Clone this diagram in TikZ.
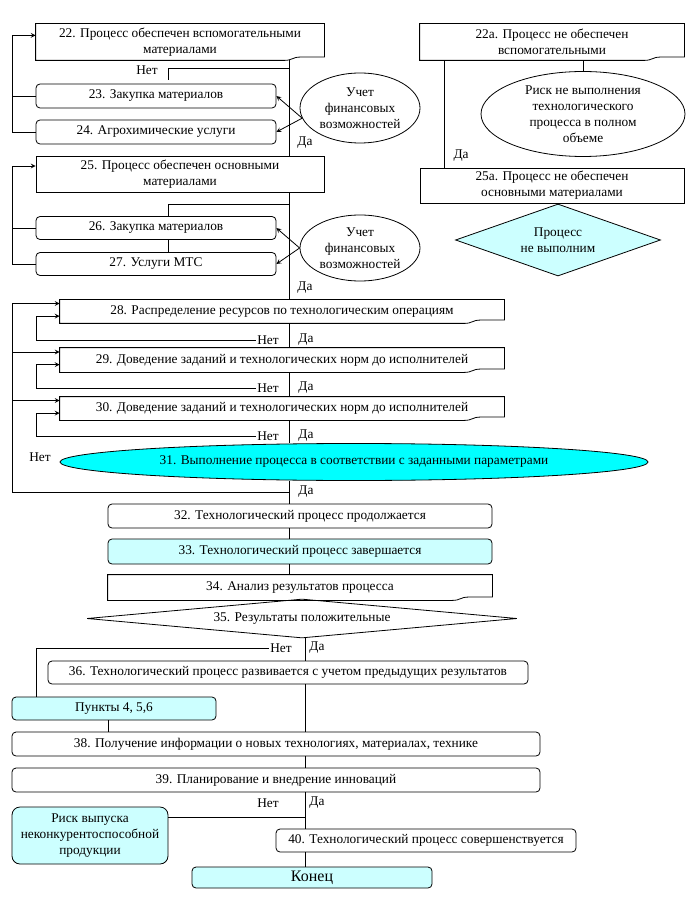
\documentclass[tikz,border=0pt]{standalone}
\usepackage{fontspec}
\setmainfont{Liberation Serif}
\usetikzlibrary{shapes.geometric}
\definecolor{paleblue}{HTML}{CCFFFF}
\definecolor{aqua}{HTML}{00FFFF}
\newcommand{\pxu}{0.75pt}

\begin{document}
\begin{tikzpicture}[x=0.75pt, y=-0.75pt, line width=0.6pt, font=\fontsize{10}{12}\selectfont,
	box/.style={draw, fill=white, inner sep=0pt, align=center},
	rbox/.style={box, rounded corners=3pt},
	doc/.style={inner sep=0pt, align=center},
	oval/.style={draw, ellipse, inner sep=0pt, align=center},
	rhomb/.style={draw, diamond, inner sep=0pt, align=center},
	tag/.style={inner sep=1pt}]
				\useasboundingbox (0,0) rectangle (687,912);
				\coordinate (ax) at (289,0);
				\coordinate (bx) at (305,0);
				\coordinate (ox) at (12,0);
				\coordinate (ix) at (36,0);
				\coordinate (kx) at (108,0);
				\coordinate (rx) at (444,0);
				\node[doc, minimum width=288*\pxu, minimum height=36*\pxu] (P22) at (180,42) {22. Процесс обеспечен вспомогательными\\материалами};
				\node[rbox, minimum width=240*\pxu, minimum height=24*\pxu] (P23) at (156,96) {23. Закупка материалов};
				\node[rbox, minimum width=240*\pxu, minimum height=24*\pxu] (P24) at (156,132) {24. Агрохимические услуги};
				\node[oval, minimum width=120*\pxu, minimum height=70*\pxu] (E1) at (360,108) {Учет\\финансовых\\возможностей};
				\node[box, minimum width=288*\pxu, minimum height=36*\pxu] (P25) at (180,174) {25. Процесс обеспечен основными\\материалами};
				\node[rbox, minimum width=240*\pxu, minimum height=23*\pxu] (P26) at (156,228) {26. Закупка материалов};
				\node[rbox, minimum width=240*\pxu, minimum height=23*\pxu] (P27) at (156,264) {27. Услуги МТС};
				\node[oval, minimum width=120*\pxu, minimum height=66*\pxu] (E2) at (360,248) {Учет\\финансовых\\возможностей};
				\node[doc, minimum width=264*\pxu, minimum height=36*\pxu] (P22a) at (552,42) {22а. Процесс не обеспечен\\вспомогательными};
				\node[oval, minimum width=204*\pxu, minimum height=85*\pxu] (R1) at (583,114) {Риск не выполнения\\технологического\\процесса в полном\\объеме};
				\node[box, minimum width=264*\pxu, minimum height=35*\pxu] (P25a) at (552,185.5) {25а. Процесс не обеспечен\\основными материалами};
				\node[rhomb, aspect=2.85, fill=paleblue, minimum width=205*\pxu, minimum height=72*\pxu] (D1) at (558,240) {Процесс\\не выполним};
				\node[doc, minimum width=444*\pxu, minimum height=23*\pxu] (P28) at (282,311.5) {28. Распределение ресурсов по технологическим операциям};
				\node[doc, minimum width=444*\pxu, minimum height=24*\pxu] (P29) at (282,360) {29. Доведение заданий и технологических норм до исполнителей};
				\node[doc, minimum width=444*\pxu, minimum height=23*\pxu] (P30) at (282,408.5) {30. Доведение заданий и технологических норм до исполнителей};
				\node[oval, fill=aqua, minimum width=588*\pxu, minimum height=37*\pxu] (E31) at (354,462) {31. Выполнение процесса в соответствии с заданными параметрами};
				\node[rbox, minimum width=384*\pxu, minimum height=24*\pxu] (P32) at (300,516) {32. Технологический процесс продолжается};
				\node[rbox, fill=paleblue, minimum width=384*\pxu, minimum height=25*\pxu] (P33) at (300,551.5) {33. Технологический процесс завершается};
				\node[doc, minimum width=384*\pxu, minimum height=25*\pxu] (P34) at (300,587.5) {34. Анализ результатов процесса};
				\node[rhomb, aspect=11, fill=white, minimum width=430*\pxu, minimum height=39*\pxu] (D35) at (302,618.5) {35. Результаты положительные};
				\node[rbox, minimum width=480*\pxu, minimum height=23*\pxu] (P36) at (288,672.5) {36. Технологический процесс развивается с учетом предыдущих результатов};
				\node[rbox, fill=paleblue, minimum width=204*\pxu, minimum height=23*\pxu] (P37) at (114,708.5) {Пункты 4, 5,6};
				\node[rbox, minimum width=528*\pxu, minimum height=24*\pxu] (P38) at (276,744) {38. Получение информации о новых технологиях, материалах, технике};
				\node[rbox, minimum width=528*\pxu, minimum height=24*\pxu] (P39) at (276,780) {39. Планирование и внедрение инноваций};
				\node[rbox, rounded corners=6pt, fill=paleblue, minimum width=156*\pxu, minimum height=57*\pxu] (R2) at (90,835.5) {Риск выпуска\\неконкурентоспособной\\продукции};
				\node[rbox, minimum width=300*\pxu, minimum height=23*\pxu] (P40) at (426,840.5) {40. Технологический процесс совершенствуется};
				\node[rbox, fill=paleblue, minimum width=240*\pxu, minimum height=21*\pxu, font=\fontsize{12}{14}\selectfont] (END) at (312,877.5) {Конец};
				\foreach \n in {P22,P22a,P28,P29,P30,P34}
					\draw (\n.south west) -- (\n.north west) -- (\n.north east) -- ([yshift=2.5pt]\n.south east) -- ([xshift=-18pt, yshift=2.5pt]\n.south east) .. controls ([xshift=-24pt, yshift=2.5pt]\n.south east) and ([xshift=-24pt]\n.south east) .. ([xshift=-30pt]\n.south east) -- cycle;
				\node[tag] (no22) at (147,70) {Нет};
				\node[tag] (yes22) at (305,143) {Да};
				\node[tag] (yes25) at (305,288) {Да};
				\node[tag] (yes22a) at (461,156) {Да};
				\node[tag] (no28) at (268,340) {Нет};
				\node[tag] (yes28) at (306,340) {Да};
				\node[tag] (no29) at (268,388) {Нет};
				\node[tag] (yes29) at (306,388) {Да};
				\node[tag] (no30) at (268,436) {Нет};
				\node[tag] (yes30) at (306,436) {Да};
				\node[tag] (no31) at (40,457) {Нет};
				\node[tag] (yes31) at (306,492) {Да};
				\node[tag] (no35) at (281,648) {Нет};
				\node[tag] (yes35) at (317,648) {Да};
				\node[tag] (no39) at (268,803) {Нет};
				\node[tag] (yes39) at (317,803) {Да};
				\coordinate (n22) at (168,68);
				\coordinate (n25) at (168,204);
				\coordinate (b31) at (289,492);
				\coordinate (r2j) at (305,817);
				\draw (P22.south -| ax) -- (P25.north -| ax);
				\draw (n22 -| ax) -- (n22) -- ++(0,12);
				\draw[->, >=stealth] (P24.west) -| ([yshift=5pt]P22.west -| ox) -- ([yshift=5pt]P22.west);
				\draw (P23.west) -- (P23.west -| ox);
				\draw[->, >=stealth] (E1.190) -- (P23.east);
				\draw[->, >=stealth] (E1.190) -- (P24.east);
				\draw (P25.south -| ax) -- (P28.north -| ax);
				\draw (n25 -| ax) -- (n25) -- (P26.north -| n25);
				\draw (P26.south -| n25) -- (P27.north -| n25);
				\draw[->, >=stealth] (P27.west) -| ([yshift=6pt]P25.west -| ox) -- ([yshift=6pt]P25.west);
				\draw (P26.west) -- (P26.west -| ox);
				\draw[->, >=stealth] (E2.west) -- (P26.east);
				\draw[->, >=stealth] (E2.west) -- (P27.east);
				\draw (P22a.south -| rx) -- (P25a.north -| rx);
				\draw (P22a.south -| R1.north) -- (R1.north);
				\draw (P28.south -| ax) -- (P29.north -| ax);
				\draw (P29.south -| ax) -- (P30.north -| ax);
				\draw (P30.south -| ax) -- (E31.north -| ax);
				\draw (E31.south -| ax) -- (P32.north -| ax);
				\draw[->, >=stealth] (b31) -| ([yshift=6pt]P28.west -| ox) -- ([yshift=6pt]P28.west);
				\draw[->, >=stealth] ([yshift=6pt]P29.west -| ox) -- ([yshift=6pt]P29.west);
				\draw[->, >=stealth] ([yshift=6pt]P30.west -| ox) -- ([yshift=6pt]P30.west);
				\draw[->, >=stealth] (no28.west) -| ([yshift=-3.5pt]P28.west -| ix) -- ([yshift=-3.5pt]P28.west);
				\draw[->, >=stealth] (no29.west) -| ([yshift=-3.5pt]P29.west -| ix) -- ([yshift=-3.5pt]P29.west);
				\draw[->, >=stealth] (no30.west) -| ([yshift=-3.5pt]P30.west -| ix) -- ([yshift=-3.5pt]P30.west);
				\draw (P32.south -| ax) -- (P33.north -| ax);
				\draw (P33.south -| ax) -- (P34.north -| ax);
				\draw (D35.south -| bx) -- (P36.north -| bx);
				\draw (no35.west) -| (P37.north -| ix);
				\draw (P37.south -| kx) -- (P38.north -| kx);
				\draw (P36.south -| bx) -- (P38.north -| bx);
				\draw (P38.south -| bx) -- (P39.north -| bx);
				\draw (P39.south -| bx) -- (P40.north -| bx);
				\draw (r2j) -- (r2j -| R2.east);
				\draw (P40.south -| bx) -- (END.north -| bx);
			\end{tikzpicture}
\end{document}
